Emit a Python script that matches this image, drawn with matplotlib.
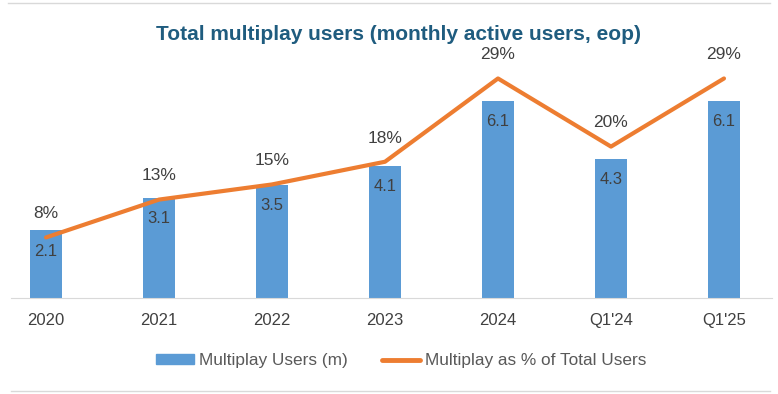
import matplotlib.pyplot as plt
from matplotlib.lines import Line2D

categories = ["2020", "2021", "2022", "2023", "2024", "Q1'24", "Q1'25"]
users_m = [2.1, 3.1, 3.5, 4.1, 6.1, 4.3, 6.1]
share_pct = [8, 13, 15, 18, 29, 20, 29]

bar_color = "#5B9BD5"
line_color = "#ED7D31"
text_color = "#404040"

plt.rcParams['font.family'] = ['Liberation Sans', 'DejaVu Sans']

fig = plt.figure(figsize=(7.78, 3.94), dpi=100)
ax = fig.add_axes([11/778, 96/394, 761/778, 228/394])
ax2 = ax.twinx()

x = list(range(len(categories)))
ax.bar(x, users_m, width=0.275, color=bar_color, zorder=2)
ax2.plot(x, share_pct, color=line_color, lw=3, solid_capstyle='round', zorder=3)

ax.set_xlim(-0.31, 6.425)
ax.set_ylim(0, 228/32.3)
ax2.set_ylim(0, 228/7.57)

for xi, v in zip(x, users_m):
    ax.annotate(f"{v:.1f}", (xi, v), xytext=(0, -15), textcoords='offset points',
                ha='center', va='center', fontsize=12, color=text_color)
for xi, v in zip(x, share_pct):
    ax2.annotate(f"{v}%", (xi, v), xytext=(0, 17), textcoords='offset points',
                 ha='center', va='center', fontsize=12.5, color=text_color)

for a in (ax, ax2):
    for s in ('top', 'right', 'left'):
        a.spines[s].set_visible(False)
    a.set_yticks([])
ax.spines['bottom'].set_color('#D9D9D9')
ax2.spines['bottom'].set_visible(False)
ax.set_xticks(x)
ax.set_xticklabels(categories, fontsize=12, color=text_color)
ax.tick_params(axis='x', length=0, pad=11)

fig.text(0.512, 1 - 34/394, "Total multiplay users (monthly active users, eop)",
         ha='center', va='center', fontsize=15, fontweight='bold', color='#1F5C7F')

handles = [plt.Rectangle((0, 0), 1, 1, color=bar_color),
           Line2D([], [], color=line_color, lw=3.5, solid_capstyle='round')]
fig.legend(handles, ["Multiplay Users (m)", "Multiplay as % of Total Users"],
           loc='center', bbox_to_anchor=(401/778, 1 - 361/394), ncol=2, frameon=False,
           fontsize=12.4, labelcolor='#595959', handlelength=2.2, handleheight=0.5,
           handletextpad=0.3, columnspacing=2.0)

fig.add_artist(Line2D([0.01, 0.99], [1 - 3/394, 1 - 3/394], color='#D9D9D9', lw=1))
fig.add_artist(Line2D([11/778, 0.99], [1 - 391/394, 1 - 391/394], color='#D9D9D9', lw=1))

fig.savefig("out.png", dpi=100)
